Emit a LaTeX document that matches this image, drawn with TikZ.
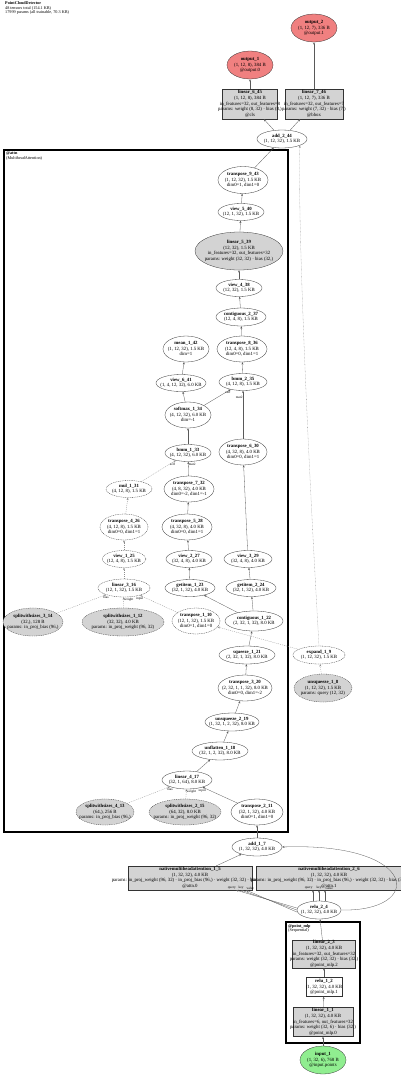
\documentclass[tikz,border=0pt]{standalone}
\usepackage{fontspec}
\setmainfont{Liberation Serif}
\usetikzlibrary{shapes.geometric}
\usetikzlibrary{arrows.meta}

\definecolor{outred}{HTML}{F08080}
\definecolor{ingreen}{HTML}{90EE90}
\definecolor{pgray}{HTML}{D3D3D3}

\newcommand{\ntxt}[1]{\makebox[0pt]{\begin{tabular}{@{}c@{}}#1\end{tabular}}}

\begin{document}
\begin{tikzpicture}[x=1pt, y=-1pt,
    tensor/.style={ellipse, draw=black!80, fill=white, line width=0.3pt, inner sep=0pt, font=\fontsize{4.8}{5.6}\selectfont},
    module/.style={rectangle, draw=black!80, fill=white, line width=0.3pt, inner sep=0pt, font=\fontsize{4.8}{5.6}\selectfont},
    sz/.style 2 args={minimum width=#1, minimum height=#2},
    param/.style={fill=pgray},
    qpath/.style={dash pattern=on 1pt off 0.8pt},
    flow/.style={draw=black!65, line width=0.3pt, -{Stealth[length=2.4pt,width=1.9pt]}},
    qflow/.style={flow, draw=black!45, dash pattern=on 1pt off 1pt},
    lbl/.style={font=\fontsize{3.4}{3.4}\selectfont, inner sep=0.3pt},
    cluster/.style={draw, line width=1.3pt},
    heading/.style={anchor=north west, align=left, inner sep=0pt, font=\fontsize{4.2}{4.4}\selectfont}]
                \useasboundingbox (0,0) rectangle (400,1076);
                \node[heading] (title) at (5,1.5) {\textbf{PointCloudDetector}\\48 tensors total (154.1 KB)\\17999 params (all trainable, 70.3 KB)};
                \draw[cluster] (4,150) rectangle (288,832);
                \node[heading] (attn_head) at (6,152) {\textbf{@attn}\\(MultiheadAttention)};
                \draw[cluster] (286,922) rectangle (360,1043);
                \node[heading] (mlp_head) at (288,924) {\textbf{@point\_mlp}\\(Sequential)};

                \node[tensor, sz={46}{28}, fill=outred] (output_2) at (314,28) {\ntxt{\textbf{output\_2}\\(1, 12, 7), 336 B\\@output.1}};
                \node[tensor, sz={46}{28}, fill=outred] (output_1) at (250,65) {\ntxt{\textbf{output\_1}\\(1, 12, 8), 384 B\\@output.0}};
                \node[module, param, sz={55}{30}] (linear_6_45) at (250,104) {\ntxt{\textbf{linear\_6\_45}\\(1, 12, 8), 384 B\\in\_features=32, out\_features=8\\params: weight (8, 32) · bias (8,)\\@cls}};
                \node[module, param, sz={58}{30}] (linear_7_46) at (314,104) {\ntxt{\textbf{linear\_7\_46}\\(1, 12, 7), 336 B\\in\_features=32, out\_features=7\\params: weight (7, 32) · bias (7,)\\@bbox}};
                \node[tensor, sz={50}{18}] (add_2_44) at (282,139) {\ntxt{\textbf{add\_2\_44}\\(1, 12, 32), 1.5 KB}};

                \node[tensor, sz={50}{27}] (transpose_9_43) at (243,180) {\ntxt{\textbf{transpose\_9\_43}\\(1, 12, 32), 1.5 KB\\dim0=1, dim1=0}};
                \node[tensor, sz={46}{17}] (view_5_40) at (241,212) {\ntxt{\textbf{view\_5\_40}\\(12, 1, 32), 1.5 KB}};
                \node[tensor, param, sz={88}{38}] (linear_5_39) at (239,251) {\ntxt{\textbf{linear\_5\_39}\\(12, 32), 1.5 KB\\in\_features=32, out\_features=32\\params: weight (32, 32) · bias (32,)}};
                \node[tensor, sz={46}{17}] (view_4_38) at (239,288) {\ntxt{\textbf{view\_4\_38}\\(12, 32), 1.5 KB}};
                \node[tensor, sz={50}{18}] (contiguous_2_37) at (241,317) {\ntxt{\textbf{contiguous\_2\_37}\\(12, 4, 8), 1.5 KB}};
                \node[tensor, sz={50}{26}] (transpose_8_36) at (242,349) {\ntxt{\textbf{transpose\_8\_36}\\(12, 4, 8), 1.5 KB\\dim0=0, dim1=1}};
                \node[tensor, sz={48}{17}] (bmm_2_35) at (243,382) {\ntxt{\textbf{bmm\_2\_35}\\(4, 12, 8), 1.5 KB}};
                \node[tensor, sz={46}{26}] (mean_1_42) at (186,349) {\ntxt{\textbf{mean\_1\_42}\\(1, 12, 32), 1.5 KB\\dim=1}};
                \node[tensor, sz={50}{17}] (view_6_41) at (181,383) {\ntxt{\textbf{view\_6\_41}\\(1, 4, 12, 32), 6.0 KB}};
                \node[tensor, sz={46}{26}] (softmax_1_34) at (188,415) {\ntxt{\textbf{softmax\_1\_34}\\(4, 12, 32), 6.0 KB\\dim=-1}};
                \node[tensor, sz={46}{17}] (bmm_1_33) at (188,453) {\ntxt{\textbf{bmm\_1\_33}\\(4, 12, 32), 6.0 KB}};
                \node[tensor, sz={48}{26}] (transpose_6_30) at (243,452) {\ntxt{\textbf{transpose\_6\_30}\\(4, 32, 8), 4.0 KB\\dim0=0, dim1=1}};
                \node[tensor, qpath, sz={46}{17}] (mul_1_31) at (129,489) {\ntxt{\textbf{mul\_1\_31}\\(4, 12, 8), 1.5 KB}};
                \node[tensor, sz={50}{26}] (transpose_7_32) at (189,489) {\ntxt{\textbf{transpose\_7\_32}\\(4, 8, 32), 4.0 KB\\dim0=-2, dim1=-1}};
                \node[tensor, qpath, sz={48}{26}] (transpose_4_26) at (124,527) {\ntxt{\textbf{transpose\_4\_26}\\(4, 12, 8), 1.5 KB\\dim0=0, dim1=1}};
                \node[tensor, sz={50}{26}] (transpose_5_28) at (187,527) {\ntxt{\textbf{transpose\_5\_28}\\(4, 32, 8), 4.0 KB\\dim0=0, dim1=1}};
                \node[tensor, qpath, sz={44}{17}] (view_1_25) at (124,559) {\ntxt{\textbf{view\_1\_25}\\(12, 4, 8), 1.5 KB}};
                \node[tensor, sz={46}{17}] (view_2_27) at (189,559) {\ntxt{\textbf{view\_2\_27}\\(32, 4, 8), 4.0 KB}};
                \node[tensor, sz={48}{17}] (view_3_29) at (248,559) {\ntxt{\textbf{view\_3\_29}\\(32, 4, 8), 4.0 KB}};
                \node[tensor, qpath, sz={52}{18}] (linear_3_16) at (124,588) {\ntxt{\textbf{linear\_3\_16}\\(12, 1, 32), 1.5 KB}};
                \node[tensor, sz={50}{17}] (getitem_1_23) at (190,588) {\ntxt{\textbf{getitem\_1\_23}\\(32, 1, 32), 4.0 KB}};
                \node[tensor, sz={50}{17}] (getitem_2_24) at (251,588) {\ntxt{\textbf{getitem\_2\_24}\\(32, 1, 32), 4.0 KB}};
                \node[tensor, param, qpath, sz={60}{28}] (splitwithsizes_3_14) at (33,622) {\ntxt{\textbf{splitwithsizes\_3\_14}\\(32,), 128 B\\params: in\_proj\_bias (96,)}};
                \node[tensor, param, qpath, sz={82}{28}] (splitwithsizes_1_12) at (123,622) {\ntxt{\textbf{splitwithsizes\_1\_12}\\(32, 32), 4.0 KB\\params: in\_proj\_weight (96, 32)}};
                \node[tensor, qpath, sz={48}{26}] (transpose_1_10) at (196,621) {\ntxt{\textbf{transpose\_1\_10}\\(12, 1, 32), 1.5 KB\\dim0=1, dim1=0}};
                \node[tensor, sz={58}{20}] (contiguous_1_22) at (254,621) {\ntxt{\textbf{contiguous\_1\_22}\\(2, 32, 1, 32), 8.0 KB}};
                \node[tensor, sz={56}{18}] (squeeze_1_21) at (247,655) {\ntxt{\textbf{squeeze\_1\_21}\\(2, 32, 1, 32), 8.0 KB}};
                \node[tensor, sz={54}{26}] (transpose_3_20) at (245,688) {\ntxt{\textbf{transpose\_3\_20}\\(2, 32, 1, 1, 32), 8.0 KB\\dim0=0, dim1=-2}};
                \node[tensor, sz={54}{18}] (unsqueeze_2_19) at (232,722) {\ntxt{\textbf{unsqueeze\_2\_19}\\(1, 32, 1, 2, 32), 8.0 KB}};
                \node[tensor, sz={56}{18}] (unflatten_1_18) at (220,751) {\ntxt{\textbf{unflatten\_1\_18}\\(32, 1, 2, 32), 8.0 KB}};
                \node[tensor, sz={50}{18}] (linear_4_17) at (187,780) {\ntxt{\textbf{linear\_4\_17}\\(32, 1, 64), 8.0 KB}};
                \node[tensor, param, qpath, sz={58}{26}] (splitwithsizes_4_13) at (105,812) {\ntxt{\textbf{splitwithsizes\_4\_13}\\(64,), 256 B\\params: in\_proj\_bias (96,)}};
                \node[tensor, param, qpath, sz={72}{26}] (splitwithsizes_2_15) at (185,812) {\ntxt{\textbf{splitwithsizes\_2\_15}\\(64, 32), 8.0 KB\\params: in\_proj\_weight (96, 32)}};
                \node[tensor, sz={52}{26}] (transpose_2_11) at (257,812) {\ntxt{\textbf{transpose\_2\_11}\\(32, 1, 32), 4.0 KB\\dim0=1, dim1=0}};

                \node[tensor, qpath, sz={52}{18}] (expand_1_9) at (319,655) {\ntxt{\textbf{expand\_1\_9}\\(1, 12, 32), 1.5 KB}};
                \node[tensor, param, qpath, sz={58}{28}] (unsqueeze_1_8) at (323,688) {\ntxt{\textbf{unsqueeze\_1\_8}\\(1, 12, 32), 1.5 KB\\params: query (12, 32)}};
                \node[tensor, sz={50}{18}] (add_1_7) at (257,847) {\ntxt{\textbf{add\_1\_7}\\(1, 32, 32), 4.0 KB}};
                \node[module, param, sz={124}{24}] (nativemultiheadattention_1_5) at (190,878) {\ntxt{\textbf{nativemultiheadattention\_1\_5}\\(1, 32, 32), 4.0 KB\\params: in\_proj\_weight (96, 32) · in\_proj\_bias (96,) · weight (32, 32) · bias (32,)\\@attn.0}};
                \node[module, param, sz={146}{24}] (nativemultiheadattention_2_6) at (329,878) {\ntxt{\textbf{nativemultiheadattention\_2\_6}\\(1, 32, 32), 4.0 KB\\params: in\_proj\_weight (96, 32) · in\_proj\_bias (96,) · weight (32, 32) · bias (32,)\\@attn.1}};
                \node[tensor, sz={44}{18}] (relu_2_4) at (319,910) {\ntxt{\textbf{relu\_2\_4}\\(1, 32, 32), 4.0 KB}};

                \node[module, param, sz={63}{28}] (linear_2_3) at (324,954) {\ntxt{\textbf{linear\_2\_3}\\(1, 32, 32), 4.0 KB\\in\_features=32, out\_features=32\\params: weight (32, 32) · bias (32,)\\@point\_mlp.2}};
                \node[module, sz={36}{19}] (relu_1_2) at (324,987) {\ntxt{\textbf{relu\_1\_2}\\(1, 32, 32), 4.0 KB\\@point\_mlp.1}};
                \node[module, param, sz={60}{29}] (linear_1_1) at (323,1022) {\ntxt{\textbf{linear\_1\_1}\\(1, 32, 32), 4.0 KB\\in\_features=6, out\_features=32\\params: weight (32, 6) · bias (32,)\\@point\_mlp.0}};
                \node[tensor, sz={46}{28}, fill=ingreen] (input_1) at (323,1060) {\ntxt{\textbf{input\_1}\\(1, 32, 6), 768 B\\@input.points}};

                \draw[flow] (add_2_44) -- (linear_6_45);
                \draw[flow] (add_2_44) -- (linear_7_46);
                \draw[flow] (linear_6_45) -- (output_1);
                \draw[flow] (linear_7_46) -- (output_2);
                \draw[flow] (transpose_9_43) -- (add_2_44);
                \draw[qflow, dash pattern=on 0.6pt off 0.8pt] (expand_1_9.north) .. controls (306,420) and (298,220) .. (add_2_44.south east);
                \draw[flow] (view_5_40) -- (transpose_9_43);
                \draw[flow] (linear_5_39) -- (view_5_40);
                \draw[flow] (view_4_38) -- (linear_5_39);
                \draw[flow] (contiguous_2_37) -- (view_4_38);
                \draw[flow] (transpose_8_36) -- (contiguous_2_37);
                \draw[flow] (bmm_2_35) -- (transpose_8_36);
                \draw[flow] (softmax_1_34) -- node[lbl, pos=0.9, below] {self} (bmm_2_35);
                \draw[flow] (transpose_6_30) -- node[lbl, pos=0.85, left] {mat2} (bmm_2_35);
                \draw[flow] (view_6_41) -- (mean_1_42);
                \draw[flow] (softmax_1_34) -- (view_6_41);
                \draw[flow] (bmm_1_33) -- (softmax_1_34);
                \draw[qflow] (mul_1_31) -- node[lbl, pos=0.9, below] {self} (bmm_1_33);
                \draw[flow] (transpose_7_32) -- node[lbl, pos=0.8, right] {mat2} (bmm_1_33);
                \draw[qflow] (transpose_4_26) -- (mul_1_31);
                \draw[flow] (transpose_5_28) -- (transpose_7_32);
                \draw[flow] (view_3_29) -- (transpose_6_30);
                \draw[qflow] (view_1_25) -- (transpose_4_26);
                \draw[flow] (view_2_27) -- (transpose_5_28);
                \draw[qflow] (linear_3_16) -- (view_1_25);
                \draw[flow] (getitem_1_23) -- (view_2_27);
                \draw[flow] (getitem_2_24) -- (view_3_29);
                \draw[qflow] (splitwithsizes_3_14) -- node[lbl, pos=0.93, below right] {bias} (linear_3_16);
                \draw[qflow] (splitwithsizes_1_12) -- node[lbl, pos=0.75, right] {weight} (linear_3_16);
                \draw[qflow] (transpose_1_10) -- node[lbl, pos=0.9, below left] {input} (linear_3_16);
                \draw[flow] (contiguous_1_22) -- (getitem_1_23);
                \draw[flow] (contiguous_1_22) -- (getitem_2_24);
                \draw[qflow] (expand_1_9) -- (transpose_1_10);
                \draw[flow] (squeeze_1_21) -- (contiguous_1_22);
                \draw[qflow] (unsqueeze_1_8) -- (expand_1_9);
                \draw[flow] (transpose_3_20) -- (squeeze_1_21);
                \draw[flow] (unsqueeze_2_19) -- (transpose_3_20);
                \draw[flow] (unflatten_1_18) -- (unsqueeze_2_19);
                \draw[flow] (linear_4_17) -- (unflatten_1_18);
                \draw[qflow] (splitwithsizes_4_13) -- node[lbl, pos=0.93, below right] {bias} (linear_4_17);
                \draw[qflow] (splitwithsizes_2_15) -- node[lbl, pos=0.75, right] {weight} (linear_4_17);
                \draw[flow] (transpose_2_11) -- node[lbl, pos=0.9, below left] {input} (linear_4_17);
                \draw[flow] (add_1_7) -- (transpose_2_11);
                \draw[flow] (nativemultiheadattention_1_5) -- (add_1_7);
                \draw[flow] (relu_2_4.east) .. controls (425,912) and (420,842) .. (add_1_7.east);
                \draw[flow] ([yshift=2pt]relu_2_4.west) -- ([xshift=-16pt]nativemultiheadattention_1_5.south east) node[lbl, above left] {query};
                \draw[flow] (relu_2_4.west) -- ([xshift=-11pt]nativemultiheadattention_1_5.south east) node[lbl, above] {key};
                \draw[flow] ([yshift=-2pt]relu_2_4.west) -- ([xshift=-6pt]nativemultiheadattention_1_5.south east) node[lbl, above right] {value};
                \draw[flow] ([xshift=-6pt]relu_2_4.north) -- ([xshift=-6pt]relu_2_4.north |- nativemultiheadattention_2_6.south) node[lbl, above left] {query};
                \draw[flow] (relu_2_4.north) -- (relu_2_4.north |- nativemultiheadattention_2_6.south) node[lbl, above] {key};
                \draw[flow] ([xshift=6pt]relu_2_4.north) -- ([xshift=6pt]relu_2_4.north |- nativemultiheadattention_2_6.south) node[lbl, above right] {value};
                \draw[flow] (linear_2_3) -- (relu_2_4);
                \draw[flow] (relu_1_2) -- (linear_2_3);
                \draw[flow] (linear_1_1) -- (relu_1_2);
                \draw[flow] (input_1) -- (linear_1_1);
            \end{tikzpicture}
\end{document}
